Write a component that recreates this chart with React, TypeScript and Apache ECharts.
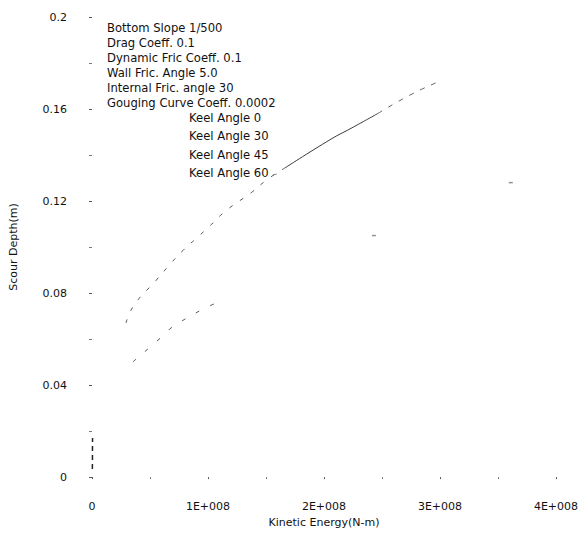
import React, { useEffect, useRef } from "react";
import * as echarts from "echarts";

// Kinetic energy (N-m) and scour depth (m)
const keel0X = [1.664e8, 2.06e8, 2.233e8, 2.466e8];
const keel0Y = [0.1344, 0.1469, 0.1516, 0.1581];
const keel0TailX = [2.466e8, 2.75e8, 2.99e8];
const keel0TailY = [0.1581, 0.1663, 0.1719];
const keel30X = [0.293e8, 0.362e8, 0.552e8, 0.664e8, 0.784e8, 0.897e8, 1.0e8, 1.155e8, 1.371e8, 1.517e8, 1.664e8];
const keel30Y = [0.067, 0.0747, 0.0855, 0.092, 0.0985, 0.1037, 0.1084, 0.1158, 0.1236, 0.1296, 0.1344];
const keel45X = [0.353e8, 0.638e8, 0.681e8, 0.94e8, 1.069e8];
const keel45Y = [0.0501, 0.0626, 0.0648, 0.0726, 0.0756];
const strayX = [2.43e8, 3.61e8];
const strayY = [0.105, 0.128];
const keel60X = [0.003e8, 0.004e8, 0.004e8, 0.005e8];
const keel60Y = [0.0035, 0.0085, 0.013, 0.017];

const paramLines = [
  "Bottom Slope 1/500",
  "Drag Coeff. 0.1",
  "Dynamic Fric Coeff. 0.1",
  "Wall Fric. Angle 5.0",
  "Internal Fric. angle 30",
  "Gouging Curve Coeff. 0.0002",
];
const legendNames = ["Keel Angle 0", "Keel Angle 30", "Keel Angle 45", "Keel Angle 60"];

const zip = (xs: number[], ys: number[]) => xs.map((x, i) => [x, ys[i]]);

const FONT = "DejaVu Sans, Verdana, sans-serif";

export default function App() {
  const ref = useRef<HTMLDivElement>(null);
  useEffect(() => {
    if (!ref.current) return;
    const chart = echarts.init(ref.current, undefined, { renderer: "svg" });
    const lineColor = "#3a3a3a";
    const graphics: any[] = [];
    paramLines.forEach((t, i) => {
      graphics.push({
        type: "text",
        left: 107,
        top: 22 + i * 15,
        style: { text: t, fill: "#111", font: `11.6px ${FONT}` },
      });
    });
    const legendTops = [112, 130, 149, 167];
    legendNames.forEach((t, i) => {
      graphics.push({
        type: "text",
        left: 189,
        top: legendTops[i],
        style: { text: t, fill: "#111", font: `11.6px ${FONT}` },
      });
    });
    graphics.push({
      type: "line",
      shape: { x1: 273, y1: 175, x2: 277, y2: 174 },
      style: { stroke: "#777", lineWidth: 0.8 },
    });

    chart.setOption({
      animation: false,
      backgroundColor: "#fff",
      grid: { left: 91, right: 28, top: 17, bottom: 55, containLabel: false },
      xAxis: {
        type: "value",
        min: 0,
        max: 4e8,
        interval: 1e8,
        name: "Kinetic Energy(N-m)",
        nameLocation: "middle",
        nameGap: 37,
        nameTextStyle: { color: "#111", fontSize: 11, fontFamily: FONT },
        axisLine: { show: false },
        axisTick: { show: true, length: 2, lineStyle: { color: "#555" } },
        minorTick: { show: true, splitNumber: 2, length: 2, lineStyle: { color: "#777" } },
        splitLine: { show: false },
        axisLabel: {
          color: "#111",
          fontSize: 11,
          fontFamily: FONT,
          margin: 24,
          formatter: (v: number) => (v === 0 ? "0" : `${v / 1e8}E+008`),
        },
      },
      yAxis: {
        type: "value",
        min: 0,
        max: 0.2,
        interval: 0.04,
        name: "Scour Depth(m)",
        nameLocation: "middle",
        nameGap: 73,
        nameRotate: 90,
        nameTextStyle: { color: "#111", fontSize: 11, fontFamily: FONT },
        axisLine: { show: false },
        axisTick: { show: true, length: 3, lineStyle: { color: "#555" } },
        minorTick: { show: true, splitNumber: 2, length: 3, lineStyle: { color: "#777" } },
        splitLine: { show: false },
        axisLabel: { color: "#111", fontSize: 11, fontFamily: FONT, margin: 25 },
      },
      graphic: graphics,
      series: [
        {
          name: "Keel Angle 0",
          type: "line",
          data: zip(keel0X, keel0Y),
          showSymbol: false,
          smooth: true,
          lineStyle: { color: lineColor, width: 1 },
        },
        {
          name: "Keel Angle 0 tail",
          type: "line",
          data: zip(keel0TailX, keel0TailY),
          showSymbol: false,
          smooth: true,
          lineStyle: { color: "#555", width: 0.9, type: [5, 7] },
        },
        {
          name: "Keel Angle 30",
          type: "line",
          data: zip(keel30X, keel30Y),
          showSymbol: false,
          smooth: true,
          lineStyle: { color: "#444", width: 0.9, type: [4, 9] },
        },
        {
          name: "Keel Angle 45",
          type: "line",
          data: zip(keel45X, keel45Y),
          showSymbol: false,
          smooth: true,
          lineStyle: { color: "#444", width: 0.9, type: [4, 12] },
        },
        {
          name: "Keel Angle 45 marks",
          type: "scatter",
          data: zip(strayX, strayY),
          symbol: "rect",
          symbolSize: [4, 1.5],
          itemStyle: { color: "#777" },
        },
        {
          name: "Keel Angle 60",
          type: "line",
          data: zip(keel60X, keel60Y),
          showSymbol: false,
          lineStyle: { color: "#222", width: 1.5, type: [5, 4] },
        },
      ],
    });
    return () => chart.dispose();
  }, []);
  return (
    <div
      ref={ref}
      style={{ position: "fixed", left: 0, top: 0, width: 584, height: 533, background: "#fff" }}
    />
  );
}
